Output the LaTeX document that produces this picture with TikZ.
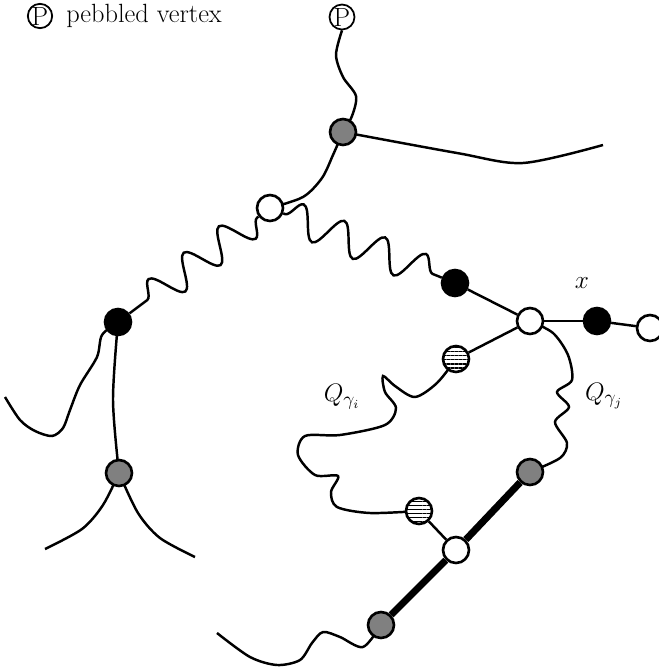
\documentclass[tikz,border=0pt]{standalone}
\usepackage{amsmath}
\usetikzlibrary{positioning,backgrounds,decorations.pathmorphing,patterns.meta}

\begin{document}
\begin{tikzpicture}[
  x=0.02cm, y=-0.02cm,
  font=\fontsize{15}{18}\selectfont,
  vtx/.style={circle, draw, line width=1.5pt, inner sep=0pt, minimum size=5.2mm},
  hollow/.style={vtx, fill=white},
  filled/.style={vtx, fill=black},
  shaded/.style={vtx, fill=black!50},
  striped/.style={vtx, fill=white, postaction={pattern={Lines[angle=0,distance=2.3pt,line width=0.7pt]}}},
  pebble/.style={circle, draw, line width=1pt, inner sep=0pt},
  wave/.style={decorate, decoration={snake, segment length=8.8mm, amplitude=3.2mm, pre length=1pt, post length=1pt}},
  heavy/.style={line width=4pt}
]
\useasboundingbox (0,0) rectangle (659,667);

% legend
\node[pebble, minimum size=3.8mm] (legP) at (40,16) {P};
\node[right=1.4mm of legP] (legtext) {pebbled vertex};

% vertices
\node[pebble, minimum size=5mm] (top) at (342,17) {P};
\node[shaded] (g1) at (343,132) {};
\node[hollow] (a) at (270,208) {};
\node[filled] (b) at (118,322) {};
\node[filled] (c) at (455,283) {};
\node[hollow] (d) at (530,321) {};
\node[filled] (e) at (597,321) {};
\node[hollow] (f) at (650,328) {};
\node[striped] (s1) at (456,359) {};
\node[shaded] (h) at (530,472) {};
\node[striped] (s2) at (419,511) {};
\node[hollow] (j) at (456,550) {};
\node[shaded] (k) at (381,625) {};
\node[shaded] (l) at (119,473) {};

% labels
\node (xlab) at (582,283) {$x$};
\node (qi) at (342,397) {$Q_{\gamma_i}$};
\node (qj) at (604,396) {$Q_{\gamma_j}$};

\begin{pgfonlayer}{background}
\begin{scope}[line width=1.4pt]
% upper part
\draw plot[smooth] coordinates {(top.south) (336,55) (343,77) (356,96) (352,116) (g1)};
\draw plot[smooth] coordinates {(g1) (457,153) (523,163) (603,145)};
\draw plot[smooth] coordinates {(g1) (333,155) (322,178) (303,197) (a)};
\draw[wave] (a) -- (b);
\draw[wave] (a) -- (c);

% left part
\draw plot[smooth] coordinates {(b) (102,335) (97,357) (80,385) (70,410) (63,428) (52,436) (35,431) (20,420) (5,397)};
\draw plot[smooth] coordinates {(b) (113,400) (l)};
\draw plot[smooth] coordinates {(l) (103,505) (82,529) (45,549)};
\draw plot[smooth] coordinates {(l) (138,513) (160,538) (195,557)};

% around x
\draw (c) -- (d);
\draw (d) -- (e);
\draw (e) -- (f);
\draw (d) -- (s1);

% the two paths Q
\draw plot[smooth] coordinates {(s1) (437,383) (415,397) (395,386) (383,376) (385,392) (396,408) (385,425) (340,435) (305,436) (298,455) (315,475) (338,476) (331,492) (337,507) (370,513) (s2)};
\draw plot[smooth] coordinates {(d) (553,333) (568,355) (572,380) (557,392) (569,407) (555,422) (567,443) (560,458) (h)};

% bottom part
\draw[heavy] (h) -- (j);
\draw[heavy] (j) -- (k);
\draw (s2) -- (j);
\draw plot[smooth] coordinates {(k) (363,647) (340,637) (323,632) (312,643) (300,660) (277,665) (250,657) (217,633)};
\end{scope}
\end{pgfonlayer}
\end{tikzpicture}
\end{document}
